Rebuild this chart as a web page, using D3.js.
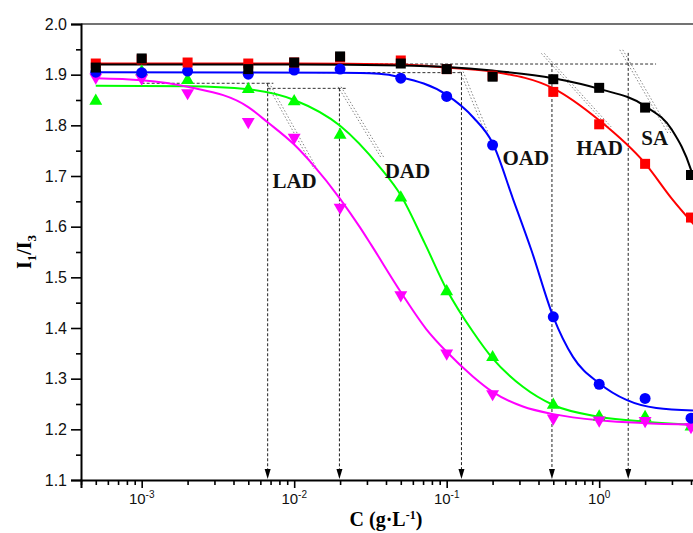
<!DOCTYPE html>
<html>
<head>
<meta charset="utf-8">
<script src="https://cdn.jsdelivr.net/npm/d3@7"></script>
<style>
  html, body { margin: 0; padding: 0; background: #fff; }
  svg { display: block; }
</style>
</head>
<body>
<svg id="chart" width="693" height="533"></svg>
<script>
// Concentrations (g/L) at which I1/I3 was measured
const conc = [5e-4, 1e-3, 2e-3, 5e-3, 1e-2, 2e-2, 5e-2, 0.1, 0.2, 0.5, 1, 2, 4];

// Measured I1/I3 ratios (null = no point at that concentration)
const valSA  = [1.914, 1.932, null, 1.911, 1.924, 1.936, 1.922, 1.911, 1.896, 1.891, 1.874, 1.835, 1.702];
const valHAD = [1.922, 1.930, 1.924, 1.922, 1.924, 1.934, 1.928, 1.911, 1.898, 1.866, 1.802, 1.724, 1.618];
const valOAD = [1.905, 1.904, 1.907, 1.901, 1.909, 1.911, 1.893, 1.857, 1.761, 1.422, 1.289, 1.261, 1.222];
const valDAD = [1.848, 1.906, 1.889, 1.871, 1.847, 1.781, 1.657, 1.472, 1.342, 1.248, 1.225, 1.224, 1.205];
const valLAD = [1.895, 1.893, 1.864, 1.807, 1.776, 1.638, 1.465, 1.350, 1.270, 1.222, 1.218, 1.217, 1.205];

// Fitted curves, [C, I1/I3]
const fitSA  = [[5e-4,1.920],[0.01,1.920],[0.05,1.918],[0.1,1.915],[0.2,1.908],[0.5,1.893],[1,1.872],[2,1.838],[3,1.791],[4,1.712],[4.3,1.680]];
const fitHAD = [[5e-4,1.922],[0.01,1.922],[0.05,1.920],[0.1,1.914],[0.2,1.906],[0.5,1.873],[1,1.810],[2,1.725],[3,1.655],[4.3,1.600]];
const fitOAD = [[5e-4,1.905],[0.02,1.904],[0.036,1.902],[0.05,1.895],[0.1,1.860],[0.15,1.815],[0.2,1.765],[0.272,1.655],[0.359,1.554],[0.5,1.422],[0.673,1.343],[1,1.291],[1.51,1.258],[2.37,1.242],[4.3,1.237]];
const fitDAD = [[5e-4,1.878],[2e-3,1.877],[5e-3,1.871],[0.01,1.850],[0.02,1.799],[0.0363,1.718],[0.05,1.662],[0.0716,1.568],[0.1,1.476],[0.149,1.392],[0.2,1.340],[0.316,1.284],[0.5,1.248],[1,1.225],[2,1.215],[4.3,1.209]];
const fitLAD = [[5e-4,1.893],[1e-3,1.889],[2e-3,1.876],[5e-3,1.836],[0.0067,1.806],[0.01,1.762],[0.0133,1.722],[0.02,1.655],[0.0268,1.600],[0.032,1.564],[0.05,1.471],[0.0734,1.398],[0.1,1.353],[0.149,1.304],[0.2,1.274],[0.316,1.245],[0.5,1.230],[1,1.218],[4.3,1.209]];

// Surfactant names and CMC read-outs
const names = ["SA", "HAD", "OAD", "DAD", "LAD"];
const cmc      = [1.55, 0.49, 0.125, 0.0198, 0.0067];
const cmcTop   = [1.943, 1.921, 1.905, 1.873, 1.883];
// Tangent segments, [[C1, y1], [C2, y2]]
const tangents = [
  [[1.396, 1.949], [2.894, 1.784]],
  [[0.4273, 1.942], [1.17, 1.797]],
  [[0.1254, 1.906], [0.1819, 1.787]],
  [[0.01985, 1.876], [0.038, 1.736]],
  [[0.0067, 1.884], [0.0138, 1.714]]
];
// Pre-micellar baselines, [C1, C2, y]
const baselines = [
  [0.02, 2.36, 1.921],
  [0.0142, 0.125, 1.904],
  [0.0067, 0.022, 1.873],
  [1e-3, 0.0073, 1.883]
];
// Label anchors (text baseline centre), [C, y]
const labelPos = [[2.31, 1.761], [1.006, 1.7415], [0.330, 1.722], [0.0553, 1.697], [0.01006, 1.676]];

const yTicks = [1.1, 1.2, 1.3, 1.4, 1.5, 1.6, 1.7, 1.8, 1.9, 2.0];
const xTickExp = [-3, -2, -1, 0];

(function draw() {
  const svg = d3.select("#chart");
  const mLeft = 81, mTop = 24, mBottom = 480;
  const x = d3.scaleLog().domain([4e-4, 5]).range([mLeft, mLeft + Math.log10(5 / 4e-4) * 152.5]);
  const y = d3.scaleLinear().domain([1.1, 2.0]).range([mBottom, mTop]);
  const mRight = x.range()[1];

  // frame
  svg.append("line").attr("x1", mLeft).attr("x2", mRight).attr("y1", mTop).attr("y2", mTop)
    .attr("stroke", "#444").attr("stroke-width", 1.6);
  svg.append("line").attr("x1", mRight).attr("x2", mRight).attr("y1", mTop).attr("y2", mBottom)
    .attr("stroke", "#444").attr("stroke-width", 1.6);

  // y axis
  const yMinor = d3.range(1.15, 2.0, 0.1);
  const yAxis = svg.append("g").attr("transform", `translate(${mLeft},0)`)
    .call(d3.axisLeft(y).tickValues(yTicks).tickFormat(d3.format(".1f")).tickSize(10).tickPadding(4));
  yAxis.select(".domain").attr("stroke-width", 2);
  yAxis.selectAll(".tick line").attr("stroke-width", 1.6);
  yAxis.selectAll("text").attr("font-family", "Liberation Sans, Arial, sans-serif").attr("font-size", 16).attr("fill", "#111");
  svg.append("g").attr("transform", `translate(${mLeft},0)`)
    .call(d3.axisLeft(y).tickValues(yMinor).tickFormat("").tickSize(5))
    .call(g => g.select(".domain").remove())
    .selectAll(".tick line").attr("stroke-width", 1.6);

  // x axis
  const xMinor = [];
  for (let e = -4; e <= 0; e++) for (let k = 2; k <= 9; k++) {
    const v = k * Math.pow(10, e);
    if (v >= 4e-4 && v <= 5) xMinor.push(v);
  }
  const xAxis = svg.append("g").attr("transform", `translate(0,${mBottom})`)
    .call(d3.axisBottom(x).tickValues(xTickExp.map(e => Math.pow(10, e))).tickFormat("").tickSize(8));
  xAxis.select(".domain").attr("stroke-width", 2);
  xAxis.selectAll(".tick line").attr("stroke-width", 1.6);
  svg.append("g").attr("transform", `translate(0,${mBottom})`)
    .call(d3.axisBottom(x).tickValues(xMinor).tickFormat("").tickSize(5))
    .call(g => g.select(".domain").remove())
    .selectAll(".tick line").attr("stroke-width", 1.6);

  xTickExp.forEach(e => {
    const t = svg.append("text").attr("x", x(Math.pow(10, e))).attr("y", mBottom + 24)
      .attr("text-anchor", "middle").attr("font-family", "Liberation Sans, Arial, sans-serif")
      .attr("font-size", 15).attr("fill", "#111");
    t.append("tspan").text("10");
    t.append("tspan").attr("dy", -6).attr("font-size", 10).text(String(e));
  });

  // axis titles
  const yt = svg.append("text").attr("transform", `translate(31,${y(1.55)}) rotate(-90)`)
    .attr("text-anchor", "middle").attr("font-family", "Liberation Serif, Times New Roman, serif")
    .attr("font-weight", "bold").attr("font-size", 20);
  yt.append("tspan").text("I");
  yt.append("tspan").attr("dy", 5).attr("font-size", 13).text("1");
  yt.append("tspan").attr("dy", -5).text("/I");
  yt.append("tspan").attr("dy", 5).attr("font-size", 13).text("3");

  const xt = svg.append("text").attr("x", 386).attr("y", 526)
    .attr("text-anchor", "middle").attr("font-family", "Liberation Serif, Times New Roman, serif")
    .attr("font-weight", "bold").attr("font-size", 20);
  xt.append("tspan").text("C (g\u00b7L");
  xt.append("tspan").attr("dy", -7).attr("font-size", 12).text("-1");
  xt.append("tspan").attr("dy", 7).text(")");

  // CMC constructions
  const guides = svg.append("g").attr("fill", "none");
  baselines.forEach(b => {
    guides.append("line").attr("x1", x(b[0])).attr("x2", x(b[1])).attr("y1", y(b[2])).attr("y2", y(b[2]))
      .attr("stroke", "#333").attr("stroke-width", 1).attr("stroke-dasharray", "3,2");
  });
  tangents.forEach(t => {
    [-1.5, 1.5].forEach(off => {
      guides.append("line").attr("x1", x(t[0][0]) + off).attr("y1", y(t[0][1]))
        .attr("x2", x(t[1][0]) + off).attr("y2", y(t[1][1]))
        .attr("stroke", "#666").attr("stroke-width", 0.8).attr("stroke-dasharray", "1.5,2");
    });
  });
  cmc.forEach((c, i) => {
    const cx = x(c);
    guides.append("line").attr("x1", cx).attr("x2", cx).attr("y1", y(cmcTop[i])).attr("y2", mBottom - 9)
      .attr("stroke", "#222").attr("stroke-width", 1).attr("stroke-dasharray", "3,2");
    svg.append("path").attr("d", `M${cx - 3},${mBottom - 11}L${cx + 3},${mBottom - 11}L${cx},${mBottom - 1}Z`)
      .attr("fill", "#000");
  });

  // fits and points
  const line = d3.line().x(d => x(d[0])).y(d => y(d[1])).curve(d3.curveMonotoneX);
  const series = [
    { fit: fitDAD, vals: valDAD, color: "#00ff00", shape: d3.symbolTriangle, size: 72, rot: 0 },
    { fit: fitLAD, vals: valLAD, color: "#ff00ff", shape: d3.symbolTriangle, size: 72, rot: 180 },
    { fit: fitOAD, vals: valOAD, color: "#0000ff", shape: d3.symbolCircle, size: 95, rot: 0 },
    { fit: fitHAD, vals: valHAD, color: "#ff0000", shape: d3.symbolSquare, size: 100, rot: 0 },
    { fit: fitSA,  vals: valSA,  color: "#000000", shape: d3.symbolSquare, size: 100, rot: 0 }
  ];
  series.forEach(s => {
    svg.append("path").datum(s.fit).attr("d", line).attr("fill", "none")
      .attr("stroke", s.color).attr("stroke-width", 2);
  });
  series.forEach(s => {
    const sym = d3.symbol().type(s.shape).size(s.size);
    svg.append("g").selectAll("path")
      .data(conc.map((c, i) => [c, s.vals[i]]).filter(d => d[1] !== null))
      .join("path")
      .attr("d", sym)
      .attr("transform", d => `translate(${x(d[0])},${y(d[1])}) rotate(${s.rot})`)
      .attr("fill", s.color);
  });

  // surfactant labels
  names.forEach((n, i) => {
    svg.append("text").attr("x", x(labelPos[i][0])).attr("y", y(labelPos[i][1]))
      .attr("text-anchor", "middle").attr("font-family", "Liberation Serif, Times New Roman, serif")
      .attr("font-weight", "bold").attr("font-size", 21).attr("fill", "#111").text(n);
  });
})();
</script>
</body>
</html>
